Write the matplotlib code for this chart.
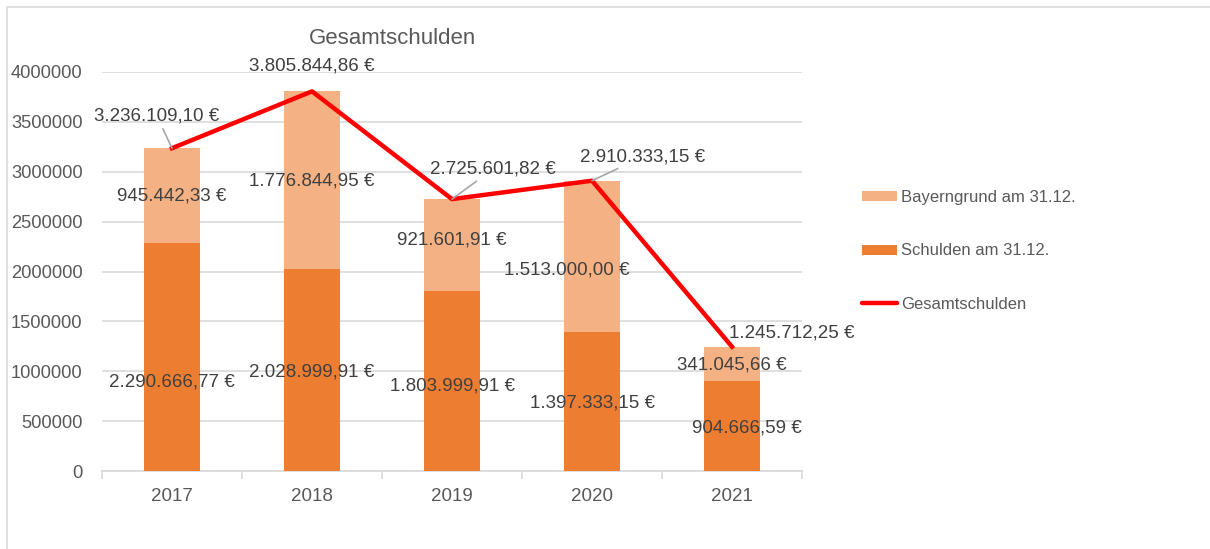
import matplotlib.pyplot as plt
from matplotlib.patches import Rectangle, Patch
from matplotlib.lines import Line2D

plt.rcParams['font.family'] = ['Liberation Sans', 'DejaVu Sans']

# Data
years = ['2017', '2018', '2019', '2020', '2021']
schulden = [2290666.77, 2028999.91, 1803999.91, 1397333.15, 904666.59]
bayerngrund = [945442.33, 1776844.95, 921601.91, 1513000.00, 341045.66]
gesamt = [3236109.10, 3805844.86, 2725601.82, 2910333.15, 1245712.25]

# Label offsets (pixels) relative to their anchors, as placed in the original
schulden_off = [(0, -25), (0, -2), (0, -5), (0, -2), (15, -2)]
bayern_off = [(0, -1), (0, -1), (0, 5), (-25, -14), (0, -1)]
gesamt_off = [(-15, 32), (0, 25), (41, 30), (51, 24), (60, 14)]
leader = [True, False, True, True, False]

c_dark = '#ED7D31'
c_light = '#F4B183'
c_line = '#FF0000'
c_text = '#595959'
c_label = '#404040'
c_grid = '#D9D9D9'


def eur(v):
    s = f'{v:,.2f}'.replace(',', 'X').replace('.', ',').replace('X', '.')
    return s + ' €'


fig = plt.figure(figsize=(12.1, 5.49), dpi=100)
fig.patches.append(Rectangle((7 / 1210, -0.1), 1.2, 1.1 - 7 / 549,
                             transform=fig.transFigure, fill=False,
                             edgecolor=c_grid, lw=1.2, zorder=0))
ax = fig.add_axes([102 / 1210, 78 / 549, 700 / 1210, 399 / 549])

x = list(range(len(years)))
ax.bar(x, schulden, width=0.4, color=c_dark, zorder=2, label='Schulden am 31.12.')
ax.bar(x, bayerngrund, width=0.4, bottom=schulden, color=c_light, zorder=2,
       label='Bayerngrund am 31.12.')
ax.plot(x, gesamt, color=c_line, lw=3.2, zorder=3, label='Gesamtschulden')

ax.set_xlim(-0.5, 4.5)
ax.set_ylim(0, 4000000)
ax.set_yticks(range(0, 4000001, 500000))
ax.set_yticklabels([str(v) for v in range(0, 4000001, 500000)])
ax.set_xticks(x)
ax.set_xticklabels(years)
ax.set_xticks([i - 0.5 for i in range(len(years) + 1)], minor=True)
ax.tick_params(axis='x', which='major', length=0, pad=12, labelsize=13.5, labelcolor=c_text)
ax.tick_params(axis='x', which='minor', length=6, color=c_grid, width=1.2)
ax.tick_params(axis='y', length=0, pad=14, labelsize=13.2, labelcolor=c_text)
ax.grid(axis='y', color=c_grid, lw=1.2, zorder=0)
for s in ['top', 'right', 'left']:
    ax.spines[s].set_visible(False)
ax.spines['bottom'].set_color(c_grid)
ax.spines['bottom'].set_linewidth(1.2)
ax.spines['bottom'].set_zorder(1)

# data labels
for i in x:
    ax.annotate(eur(schulden[i]), (i, schulden[i] / 2), xytext=schulden_off[i],
                textcoords='offset pixels', ha='center', va='center',
                fontsize=13.5, color=c_label, zorder=5, annotation_clip=False)
    ax.annotate(eur(bayerngrund[i]), (i, schulden[i] + bayerngrund[i] / 2),
                xytext=bayern_off[i], textcoords='offset pixels', ha='center',
                va='center', fontsize=13.5, color=c_label, zorder=5,
                annotation_clip=False)
    arrow = dict(arrowstyle='-', color='#A6A6A6', lw=1.2, shrinkA=1, shrinkB=0) if leader[i] else None
    ax.annotate(eur(gesamt[i]), (i, gesamt[i]), xytext=gesamt_off[i],
                textcoords='offset pixels', ha='center', va='center',
                fontsize=13.5, color=c_label, zorder=5, arrowprops=arrow,
                annotation_clip=False)

fig.text(393 / 1210, 1 - 38 / 549, 'Gesamtschulden', ha='center', va='center',
         fontsize=16, color=c_text)

handles = [Patch(facecolor=c_light, edgecolor='none'),
           Patch(facecolor=c_dark, edgecolor='none'),
           Line2D([0], [0], color=c_line, lw=3.2, solid_capstyle='round')]
labels = ['Bayerngrund am 31.12.', 'Schulden am 31.12.', 'Gesamtschulden']
leg = fig.legend(handles, labels, loc='center left',
                 bbox_to_anchor=(847 / 1210, 1 - 251 / 549), frameon=False,
                 fontsize=12, labelspacing=2.3, handlelength=2.1,
                 handleheight=0.55, handletextpad=0.25)
for t in leg.get_texts():
    t.set_color(c_text)

fig.savefig('out.png', dpi=100)
